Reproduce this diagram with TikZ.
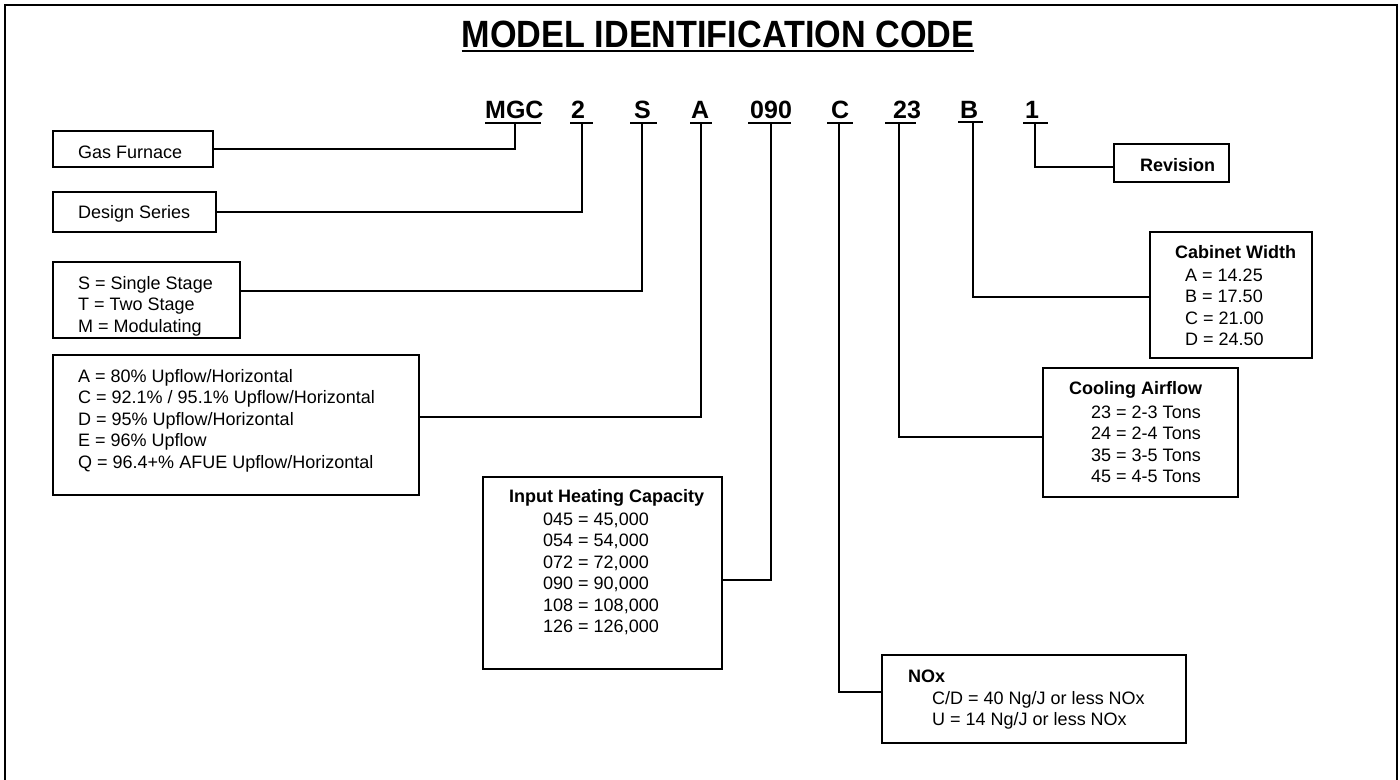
\documentclass[tikz,border=0pt]{standalone}
\usepackage{fontspec}
\setmainfont{Liberation Sans}
\usepackage{graphicx}
\newcommand\firstln{\rule{0pt}{14pt}}
\begin{document}
\begin{tikzpicture}[x=1pt,y=-1pt,
  box/.style={draw,line width=2.4pt,inner sep=0pt,outer sep=0pt,anchor=north west},
  txt/.style={inner sep=0pt,anchor=base west,font=\fontsize{18}{21.5}\selectfont},
  mtxt/.style={inner sep=0pt,anchor=north west,align=left,font=\fontsize{18}{21.5}\selectfont},
  head/.style={inner sep=0pt,anchor=base west,font=\bfseries\fontsize{18}{21.5}\selectfont},
  code/.style={inner sep=0pt,anchor=base west,font=\bfseries\fontsize{25}{28}\selectfont},
  conn/.style={line width=2.3pt},
  uline/.style={line width=2.3pt}]
\useasboundingbox (0,0) rectangle (1400,779);
% outer frame
\draw[line width=2.6pt] (5,790) -- (5,5) -- (1397,5) -- (1397,790);
% title
\node[inner sep=0pt,anchor=base,font=\bfseries\fontsize{38}{40}\selectfont] (title) at (718,47) {\scalebox{0.9}[1]{MODEL IDENTIFICATION CODE}};
\draw[line width=2pt] ([yshift=-3.6pt]title.base west) -- ([yshift=-3.6pt]title.base east);
% code characters
\node[code] (cMGC) at (485,118) {MGC};
\node[code] (c2) at (571,118) {2};
\node[code] (cS) at (634,118) {S};
\node[code] (cA) at (691,118) {A};
\node[code] (c090) at (750,118) {090};
\node[code] (cC) at (831,118) {C};
\node[code] (c23) at (893,118) {23};
\node[code] (cB) at (960,118) {B};
\node[code] (c1) at (1025,118) {1};
% underlines
\draw[uline] (485,123) -- (541,123);
\draw[uline] (570,123) -- (593,123);
\draw[uline] (630,123) -- (657,123);
\draw[uline] (690,123) -- (712,123);
\draw[uline] (748,123) -- (791,123);
\draw[uline] (827,123) -- (853,123);
\draw[uline] (885,123) -- (916,123);
\draw[uline] (958,122) -- (983,122);
\draw[uline] (1023,123) -- (1048,123);
\coordinate (uMGC) at (515,123);
\coordinate (u2) at (582,123);
\coordinate (uS) at (642,123);
\coordinate (uA) at (701,123);
\coordinate (u090) at (771,123);
\coordinate (uC) at (839,123);
\coordinate (u23) at (899,123);
\coordinate (uB) at (973,122);
\coordinate (u1) at (1035,123);
% boxes
\node[box,minimum width=160pt,minimum height=36pt] (gas) at (53,131) {};
\node[box,minimum width=163pt,minimum height=40pt] (design) at (53,192) {};
\node[box,minimum width=187pt,minimum height=76pt] (stm) at (53,262) {};
\node[box,minimum width=366pt,minimum height=140pt] (abox) at (53,355) {};
\node[box,minimum width=239pt,minimum height=192pt] (input) at (483,477) {};
\node[box,minimum width=304pt,minimum height=88pt] (nox) at (882,655) {};
\node[box,minimum width=195pt,minimum height=129pt] (cool) at (1043,368) {};
\node[box,minimum width=162pt,minimum height=126pt] (cab) at (1150,232) {};
\node[box,minimum width=115pt,minimum height=38pt] (rev) at (1114,144) {};
% texts
\node[txt] (gasT) at (78,158) {Gas Furnace};
\node[txt] (designT) at (78,218) {Design Series};
\node[mtxt] (stmT) at (78,275) {\firstln S = Single Stage\\T = Two Stage\\M = Modulating};
\node[mtxt] (aboxT) at (78,368) {\firstln A = 80\% Upflow/Horizontal\\C = 92.1\% / 95.1\% Upflow/Horizontal\\D = 95\% Upflow/Horizontal\\E = 96\% Upflow\\Q = 96.4+\% AFUE Upflow/Horizontal};
\node[head] (inputH) at (509,502) {Input Heating Capacity};
\node[mtxt] (inputT) at (543,511) {\firstln 045 = 45,000\\054 = 54,000\\072 = 72,000\\090 = 90,000\\108 = 108,000\\126 = 126,000};
\node[head] (noxH) at (908,682) {NOx};
\node[mtxt] (noxT) at (932,690) {\firstln C/D = 40 Ng/J or less NOx\\U = 14 Ng/J or less NOx};
\node[head] (coolH) at (1069,394) {Cooling Airflow};
\node[mtxt] (coolT) at (1091,404) {\firstln 23 = 2-3 Tons\\24 = 2-4 Tons\\35 = 3-5 Tons\\45 = 4-5 Tons};
\node[head] (cabH) at (1175,258) {Cabinet Width};
\node[mtxt] (cabT) at (1185,267) {\firstln A = 14.25\\B = 17.50\\C = 21.00\\D = 24.50};
\node[head] (revT) at (1140,171) {Revision};
% connectors
\draw[conn] (uMGC) |- (gas.east);
\draw[conn] (u2) |- (design.east);
\draw[conn] (uS) |- ([yshift=9pt]stm.east);
\draw[conn] (uA) |- ([yshift=8pt]abox.east);
\draw[conn] (u090) |- ([yshift=-7pt]input.east);
\draw[conn] (uC) |- ([yshift=7pt]nox.west);
\draw[conn] (u23) |- ([yshift=-4.5pt]cool.west);
\draw[conn] (uB) |- ([yshift=-2pt]cab.west);
\draw[conn] (u1) |- ([yshift=-4pt]rev.west);
\end{tikzpicture}
\end{document}
